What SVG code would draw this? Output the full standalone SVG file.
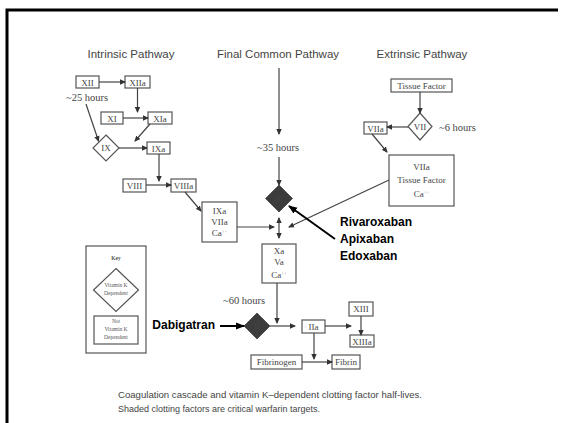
<svg xmlns="http://www.w3.org/2000/svg" width="565" height="423" viewBox="0 0 565 423">
<defs>
<marker id="ah" markerWidth="6" markerHeight="6" refX="5" refY="3" orient="auto" markerUnits="userSpaceOnUse"><path d="M0,0.3 L6,3 L0,5.7 Z" fill="#333"/></marker>
<marker id="ahs" markerWidth="6" markerHeight="6" refX="1" refY="3" orient="auto" markerUnits="userSpaceOnUse"><path d="M6,0.3 L0,3 L6,5.7 Z" fill="#333"/></marker>
<marker id="bh" markerWidth="9" markerHeight="8" refX="8" refY="4" orient="auto" markerUnits="userSpaceOnUse"><path d="M0,0.5 L9,4 L0,7.5 Z" fill="#000"/></marker>
<style>
.t{font-family:"Liberation Sans",Arial,sans-serif;font-size:11.5px;fill:#444;text-anchor:middle}
.b{fill:#fff;stroke:#555;stroke-width:1.2}
.l{font-family:"Liberation Serif","Times New Roman",serif;font-size:9px;fill:#444;text-anchor:middle}
.h{font-family:"Liberation Serif","Times New Roman",serif;font-size:10.5px;fill:#444}
.k{font-family:"Liberation Serif","Times New Roman",serif;font-size:5.5px;fill:#555;text-anchor:middle}
.d{fill:#3c3c3c;stroke:#555;stroke-width:1}
.c line,.c path{stroke:#444;stroke-width:1.2;fill:none}
.drug{font-family:"Liberation Sans",Arial,sans-serif;font-size:12px;font-weight:bold;fill:#000}
.cap{font-family:"Liberation Sans",Arial,sans-serif;font-size:9px;fill:#444}
</style>
</defs>
<rect width="565" height="423" fill="#fff"/>
<path d="M7,423 V10 H558" fill="none" stroke="#000" stroke-width="3"/>

<text class="t" x="131" y="58">Intrinsic Pathway</text>
<text class="t" x="278" y="58">Final Common Pathway</text>
<text class="t" x="422" y="58">Extrinsic Pathway</text>

<g id="XII"><rect class="b" x="76" y="76" width="23" height="12"/><text class="l" x="87.5" y="85.5">XII</text></g>
<g id="XIIa"><rect class="b" x="125" y="76" width="25" height="12"/><text class="l" x="137.5" y="85.5">XIIa</text></g>
<g id="XI"><rect class="b" x="101" y="112" width="22" height="12"/><text class="l" x="112" y="121.5">XI</text></g>
<g id="XIa"><rect class="b" x="148" y="112" width="24" height="12"/><text class="l" x="160" y="121.5">XIa</text></g>
<g id="IX"><path class="b" d="M106,135 L119,148 L106,161 L93,148 Z"/><text class="l" x="106" y="151">IX</text></g>
<g id="IXa"><rect class="b" x="147" y="142" width="23" height="12"/><text class="l" x="158.5" y="151.5">IXa</text></g>
<g id="VIII"><rect class="b" x="123" y="179" width="23" height="13"/><text class="l" x="134.5" y="188.5">VIII</text></g>
<g id="VIIIa"><rect class="b" x="171" y="179" width="25" height="13"/><text class="l" x="183.5" y="188.5">VIIIa</text></g>
<g id="tenase"><rect class="b" x="202" y="202" width="35" height="40"/><text class="l" x="219.5" y="213.5">IXa</text><text class="l" x="219.5" y="224.5">VIIa</text><text class="l" x="219.5" y="236">Ca<tspan font-size="5" dy="-3">++</tspan></text></g>

<g id="X"><path class="d" d="M279,185 L292.5,198.5 L279,212 L265.5,198.5 Z"/><text class="l" x="279" y="201.5" fill="#222">X</text></g>
<g id="prothrombinase"><rect class="b" x="262" y="244" width="34" height="39"/><text class="l" x="279" y="254">Xa</text><text class="l" x="279" y="265">Va</text><text class="l" x="279" y="277.5">Ca<tspan font-size="5" dy="-3">++</tspan></text></g>

<g id="TF"><rect class="b" x="391" y="79" width="61" height="13"/><text class="l" x="421.5" y="88.5">Tissue Factor</text></g>
<g id="VII"><path class="b" d="M420,113 L432,126.5 L420,140 L408,126.5 Z"/><text class="l" x="420" y="129.5">VII</text></g>
<g id="VIIa"><rect class="b" x="364" y="122" width="23" height="12"/><text class="l" x="375.5" y="131.5">VIIa</text></g>
<g id="VIIaTF"><rect class="b" x="389" y="155" width="65" height="51"/><text class="l" x="421.5" y="170">VIIa</text><text class="l" x="421.5" y="183">Tissue Factor</text><text class="l" x="421.5" y="197">Ca<tspan font-size="5" dy="-3">++</tspan></text></g>

<g id="II"><path class="d" d="M257,313 L270,326 L257,339 L244,326 Z"/><text class="l" x="257" y="329" fill="#222">II</text></g>
<g id="IIa"><rect class="b" x="302" y="320" width="23" height="13"/><text class="l" x="313.5" y="329.5">IIa</text></g>
<g id="XIII"><rect class="b" x="349" y="302" width="24" height="14"/><text class="l" x="361" y="312">XIII</text></g>
<g id="XIIIa"><rect class="b" x="350" y="335" width="24" height="12"/><text class="l" x="362" y="344.5">XIIIa</text></g>
<g id="Fibrinogen"><rect class="b" x="251" y="355" width="51" height="14"/><text class="l" x="276.5" y="365">Fibrinogen</text></g>
<g id="Fibrin"><rect class="b" x="332" y="355" width="28" height="14"/><text class="l" x="346" y="365">Fibrin</text></g>

<g id="key"><rect class="b" x="86" y="246" width="60" height="107"/><text class="k" x="116" y="260" font-weight="bold" fill="#333" font-size="6.5">Key</text>
<path class="b" d="M116,268.5 L138.5,290 L116,311.5 L93.5,290 Z"/><text class="k" x="116" y="287">Vitamin K</text><text class="k" x="116" y="294.5">Dependent</text>
<rect class="b" x="94" y="316" width="44" height="28"/><text class="k" x="116" y="323">Not</text><text class="k" x="116" y="330.5">Vitamin K</text><text class="k" x="116" y="338.5">Dependent</text></g>

<text class="h" x="66" y="101">~25 hours</text>
<text class="h" x="257" y="151">~35 hours</text>
<text class="h" x="439" y="131">~6 hours</text>
<text class="h" x="223" y="304">~60 hours</text>

<g id="connectors" class="c">
<line x1="99" y1="82" x2="125" y2="82" marker-end="url(#ah)"/>
<line x1="137.5" y1="88" x2="137.5" y2="112" marker-end="url(#ah)"/>
<line x1="123" y1="118" x2="148" y2="118" marker-end="url(#ah)"/>
<line x1="86" y1="104" x2="98.5" y2="141" marker-end="url(#ah)"/>
<line x1="150" y1="124" x2="135" y2="141" marker-end="url(#ah)"/>
<line x1="119" y1="148" x2="147" y2="148" marker-end="url(#ah)"/>
<line x1="159" y1="154" x2="159" y2="181" marker-end="url(#ah)"/>
<line x1="146" y1="185" x2="171" y2="185" marker-end="url(#ah)"/>
<line x1="185" y1="192" x2="201" y2="211" marker-end="url(#ah)"/>
<line x1="237" y1="227" x2="274" y2="227" marker-end="url(#ah)"/>
<line x1="279" y1="68" x2="279" y2="134" marker-end="url(#ah)"/>
<line x1="279" y1="157" x2="279" y2="185" marker-end="url(#ah)"/>
<line x1="279" y1="218" x2="279" y2="238" marker-start="url(#ahs)" marker-end="url(#ah)"/>
<line x1="420" y1="92" x2="420" y2="113" marker-end="url(#ah)"/>
<line x1="408" y1="127" x2="387" y2="127" marker-end="url(#ah)"/>
<line x1="372" y1="134" x2="387" y2="152" marker-end="url(#ah)"/>
<line x1="389" y1="180" x2="289" y2="227" marker-end="url(#ah)"/>
<line x1="277" y1="283" x2="277" y2="323" marker-end="url(#ah)"/>
<line x1="270" y1="326" x2="295" y2="326" marker-end="url(#ah)"/>
<line x1="325" y1="326" x2="351" y2="326" marker-end="url(#ah)"/>
<line x1="361" y1="316" x2="361" y2="335" marker-end="url(#ah)"/>
<line x1="314" y1="333" x2="314" y2="359" marker-end="url(#ah)"/>
<line x1="302" y1="362" x2="332" y2="362" marker-end="url(#ah)"/>
<line x1="335" y1="239" x2="289" y2="206" style="stroke:#000;stroke-width:2" marker-end="url(#bh)"/>
<line x1="220" y1="326" x2="244" y2="326" style="stroke:#000;stroke-width:2" marker-end="url(#bh)"/>
</g>

<text class="drug" x="340" y="226">Rivaroxaban</text>
<text class="drug" x="340" y="243">Apixaban</text>
<text class="drug" x="340" y="259.5">Edoxaban</text>
<text class="drug" x="215" y="328.5" text-anchor="end">Dabigatran</text>

<text class="cap" x="118" y="398" textLength="304" lengthAdjust="spacingAndGlyphs">Coagulation cascade and vitamin K–dependent clotting factor half-lives.</text>
<text class="cap" x="118" y="411.5">Shaded clotting factors are critical warfarin targets.</text>
</svg>
